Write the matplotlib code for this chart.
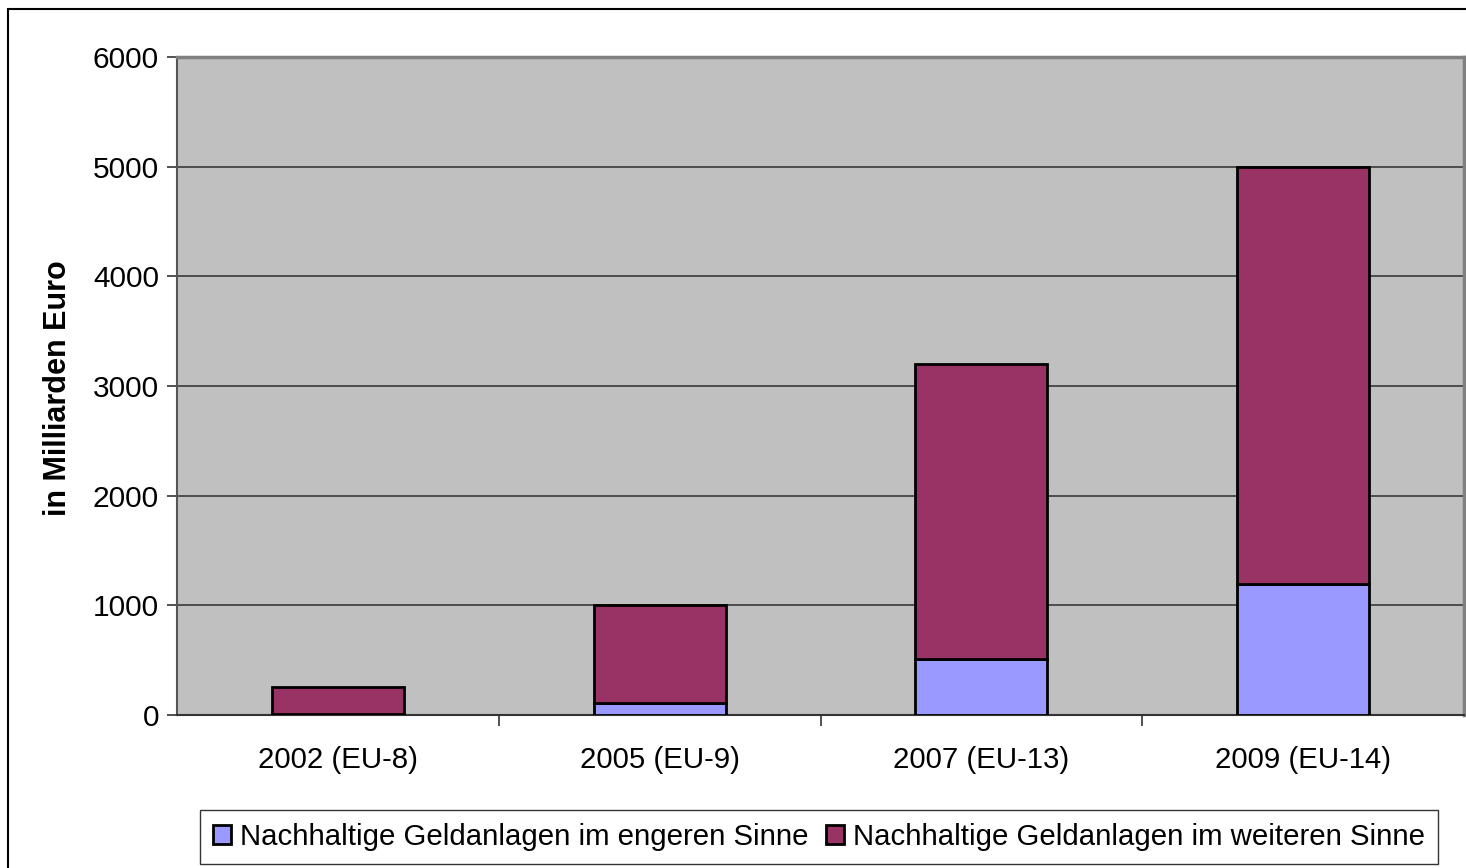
import matplotlib

matplotlib.use("Agg")
import matplotlib.pyplot as plt
import numpy as np
from matplotlib.patches import Rectangle

plt.rcParams["font.family"] = ["Liberation Sans", "DejaVu Sans"]

categories = ["2002 (EU-8)", "2005 (EU-9)", "2007 (EU-13)", "2009 (EU-14)"]
engeren = [10, 105, 510, 1190]
weiteren = [245, 895, 2690, 3810]
series_labels = [
    "Nachhaltige Geldanlagen im engeren Sinne",
    "Nachhaltige Geldanlagen im weiteren Sinne",
]
yticks = [0, 1000, 2000, 3000, 4000, 5000, 6000]

W, H = 1466, 868
fig = plt.figure(figsize=(W / 100, H / 100), dpi=100)
ax = fig.add_axes([177 / W, 1 - 715 / H, (1464 - 177) / W, (715 - 57) / H])

# outer chart frame (clipped at right/bottom like the source)
fig.patches.append(
    Rectangle((8 / W, -0.1), 1.2, 1 - 9 / H + 0.1, transform=fig.transFigure,
              fill=False, edgecolor="black", linewidth=1.5)
)

x = np.arange(len(categories))
width = 0.41
ax.set_facecolor("#C0C0C0")
ax.bar(x, engeren, width, color="#9999FF", edgecolor="black", linewidth=2,
       label=series_labels[0], zorder=3)
ax.bar(x, weiteren, width, bottom=engeren, color="#993366", edgecolor="black",
       linewidth=2, label=series_labels[1], zorder=3)

ax.set_xlim(-0.5, len(categories) - 0.5)
ax.set_ylim(0, 6000)
ax.set_yticks(yticks)
ax.tick_params(axis="y", labelsize=21.5, length=7, width=1.2, color="#333333", pad=6)
ax.set_xticks(x)
ax.set_xticklabels(categories)
ax.set_xticks(np.arange(0.5, len(categories) - 1, 1), minor=True)
ax.tick_params(axis="x", which="major", length=0, labelsize=21.2, pad=22)
ax.tick_params(axis="x", which="minor", length=8, width=1.2, color="#333333")

ax.yaxis.grid(True, color="#3a3a3a", linewidth=1.2, zorder=1)
ax.set_axisbelow(True)
for side in ["top", "right"]:
    ax.spines[side].set_color("#808080")
    ax.spines[side].set_linewidth(2.5)
ax.spines["left"].set_color("#555555")
ax.spines["left"].set_linewidth(1.5)
ax.spines["bottom"].set_color("#333333")
ax.spines["bottom"].set_linewidth(1.5)

fig.text(58 / W, 1 - 388 / H, "in Milliarden Euro", rotation=90, fontsize=22,
         fontweight="bold", ha="center", va="center")

leg = fig.legend(loc="center", bbox_to_anchor=(819 / W, 1 - 837 / H), ncol=2,
                 fontsize=21.2, frameon=True, fancybox=False, edgecolor="black",
                 handlelength=0.6, handleheight=0.6, handletextpad=0.3,
                 columnspacing=0.6, borderpad=0.45)
leg.get_frame().set_linewidth(1)

fig.savefig("out.png", dpi=100)
